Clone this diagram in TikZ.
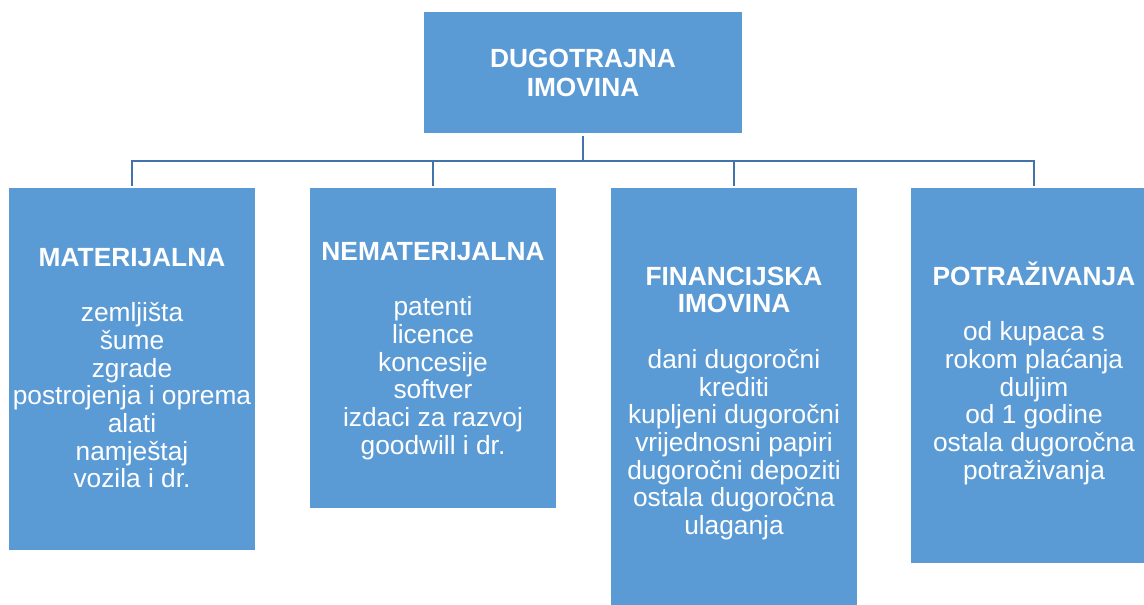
\documentclass[tikz,border=0pt]{standalone}
\usepackage{fontspec}
\setmainfont{Liberation Sans}
\definecolor{boxblue}{RGB}{91,155,213}
\definecolor{lineblue}{RGB}{68,114,170}
\newcommand{\tallstrut}{\rule{0pt}{25pt}}
\tikzset{
  box/.style={draw=none, fill=boxblue, minimum width=246pt, inner sep=0pt, anchor=north},
  boxtext/.style={text=white, align=center, anchor=north, inner sep=0pt,
    font=\fontsize{26.3}{27.7}\selectfont},
  conn/.style={draw=lineblue, line width=2.6pt}
}
\begin{document}
\begin{tikzpicture}[x=1pt,y=-1pt]
\useasboundingbox (0,0) rectangle (1144,605);
\clip (0,0) rectangle (1144,605);
% boxes
\node[box, minimum width=318pt, minimum height=121pt] (top) at (583,12) {};
\node[box, minimum height=362pt] (b1) at (132,188) {};
\node[box, minimum height=320pt] (b2) at (433,188) {};
\node[box, minimum height=428pt] (b3) at (734,188) {};
\node[box, minimum height=375pt] (b4) at (1034,188) {};
% texts
\node[boxtext] (ttop) at (583,42) {\tallstrut\textbf{DUGOTRAJNA}\\[1.3pt]\textbf{IMOVINA}};
\node[boxtext] (t1) at (132,241) {\tallstrut\textbf{MATERIJALNA}\\~\\zemljišta\\šume\\zgrade\\postrojenja i oprema\\alati\\namještaj\\vozila i dr.};
\node[boxtext] (t2) at (433,235) {\tallstrut\textbf{NEMATERIJALNA}\\~\\patenti\\licence\\koncesije\\softver\\izdaci za razvoj\\goodwill i dr.};
\node[boxtext] (t3) at (734,260) {\tallstrut\textbf{FINANCIJSKA}\\\textbf{IMOVINA}\\~\\dani dugoročni\\krediti\\kupljeni dugoročni\\vrijednosni papiri\\dugoročni depoziti\\ostala dugoročna\\ulaganja};
\node[boxtext] (t4) at (1034,260) {\tallstrut\textbf{POTRAŽIVANJA}\\~\\od kupaca s\\rokom plaćanja\\duljim\\od 1 godine\\ostala dugoročna\\potraživanja};
% connectors
\coordinate (bus) at (583,161);
\coordinate (stub) at (583,136);
\draw[conn] (stub) -- (bus);
\draw[conn] (bus) -| ([yshift=2pt]b1.north);
\draw[conn] (bus) -| ([yshift=2pt]b2.north);
\draw[conn] (bus) -| ([yshift=2pt]b3.north);
\draw[conn] (bus) -| ([yshift=2pt]b4.north);
\end{tikzpicture}
\end{document}
